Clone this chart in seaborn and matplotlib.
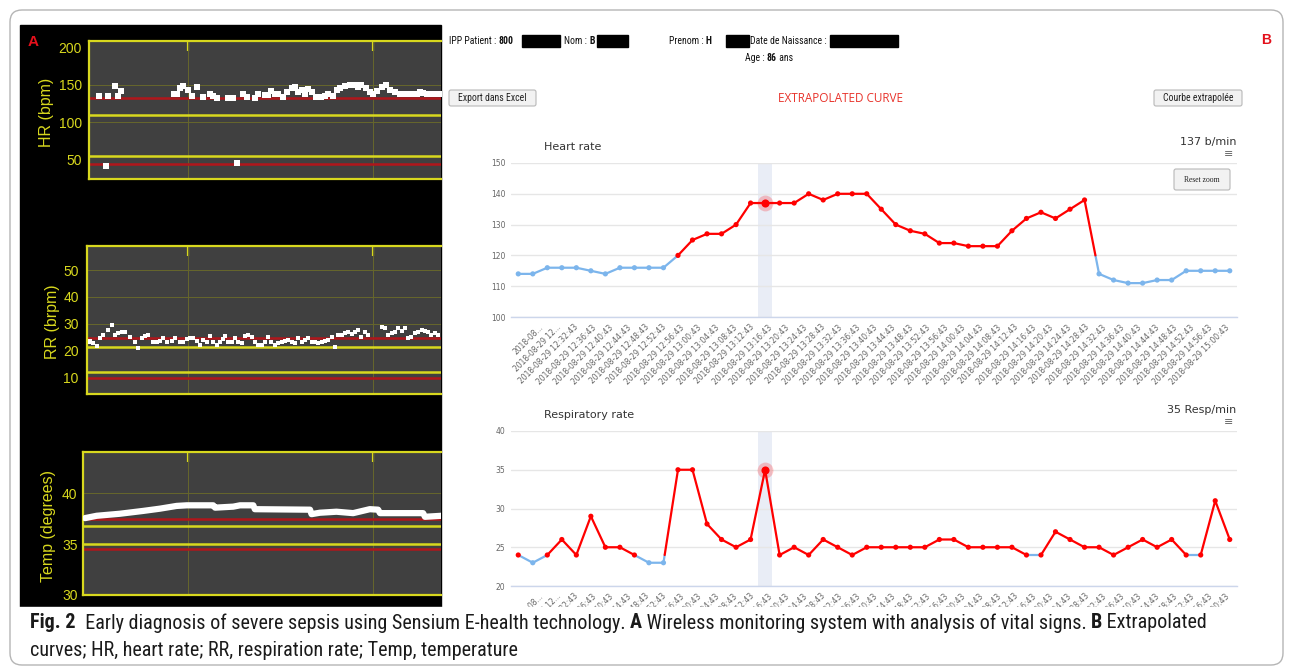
import numpy as np
import pandas as pd
import matplotlib
matplotlib.use("Agg")
import matplotlib.pyplot as plt
import matplotlib.transforms as mtransforms
from matplotlib.patches import Rectangle, FancyBboxPatch
from matplotlib.font_manager import FontProperties, fontManager
import seaborn as sns

# ---------------- panel A : Sensium monitor (time = minutes from left edge of HR plot)
hr_a_t = [3.3, 5.5, 6.3, 8.5, 9.3, 10.4, 27.6, 28.4, 29.5, 30.4, 32.2, 33.3, 35.1, 37.1, 39.3, 40.1,
          41.4, 45.2, 46.8, 48.1, 50.0, 51.1, 53.8, 54.9, 57.1, 58.1, 59.2, 60.3, 61.4, 63.0, 64.1,
          65.7, 66.8, 67.9, 69.0, 70.0, 71.1, 72.2, 73.8, 75.4, 76.5, 77.6, 79.2, 80.3, 81.4, 83.0,
          84.6, 86.3, 87.3, 88.4, 90.0, 91.1, 92.2, 93.3, 94.9, 96.5, 97.6, 99.2, 100.9, 101.9,
          103.0, 104.1, 105.2, 106.3, 107.4, 108.5, 109.5, 110.6, 111.7, 112.8, 113.8]
hr_a_v = [135, 42, 135, 148, 135, 141, 138, 138, 145, 148, 143, 135, 147, 134, 138, 135,
          132, 132, 132, 46, 138, 134, 132, 138, 136, 136, 141, 138, 138, 134, 140,
          145, 147, 140, 143, 137, 144, 140, 134, 133, 135, 138, 135, 143, 145, 148,
          149, 149, 147, 149, 145, 140, 138, 141, 147, 149, 143, 140, 138, 138,
          138, 137, 137, 138, 140, 139, 138, 138, 138, 137, 138]

rr_a_t = [0.2, 0.3, 1.4, 2.5, 3.6, 4.6, 6.3, 7.3, 8.4, 9.5, 10.6, 11.7, 13.3, 14.9, 16.0, 17.1,
          18.2, 19.2, 20.9, 21.9, 23.0, 24.1, 25.2, 26.8, 27.9, 29.5, 30.6, 31.7, 32.7, 33.8,
          34.9, 36.0, 37.1, 38.2, 39.2, 40.3, 41.4, 42.5, 43.6, 44.1, 45.2, 46.3, 47.3, 48.4,
          49.5, 50.6, 51.7, 52.8, 53.8, 54.9, 56.0, 57.1, 58.2, 59.2, 60.3, 61.4, 62.5, 63.6,
          64.6, 65.7, 66.8, 67.9, 69.0, 70.0, 71.1, 72.2, 73.3, 74.4, 75.5, 76.5, 77.6, 78.7,
          79.8, 80.9, 82.0, 83.0, 84.1, 85.2, 86.3, 87.3, 88.4, 89.5, 90.6, 94.9, 96.0, 97.1,
          98.2, 99.2, 100.3, 101.4, 102.5, 103.6, 104.6, 105.7, 106.8, 107.9, 109.0, 110.0,
          111.1, 112.2, 113.3]
rr_a_v = [23.5, 23.2, 22.6, 21.6, 24.5, 25.7, 27.6, 29.4, 25.7, 26.3, 26.9, 26.7, 25.1, 23.2, 20.7, 24.5,
          25.3, 25.7, 23.2, 23.0, 23.5, 24.5, 23.0, 23.5, 24.5, 23.0, 23.2, 24.1, 24.7, 24.5,
          23.5, 22.0, 23.8, 23.2, 25.3, 23.0, 22.0, 23.2, 24.2, 25.3, 23.0, 23.2, 24.5, 23.2,
          22.6, 25.3, 25.7, 25.1, 23.2, 22.0, 22.0, 23.2, 25.1, 23.0, 22.0, 22.6, 23.2, 23.5,
          23.8, 23.2, 22.6, 24.5, 23.2, 23.8, 24.5, 23.2, 23.0, 22.6, 23.2, 23.5, 23.8, 25.1,
          21.3, 25.7, 25.7, 26.3, 26.7, 26.0, 26.9, 27.6, 25.1, 26.9, 25.7, 28.8, 28.4, 25.7,
          26.3, 26.9, 28.2, 27.2, 28.4, 24.5, 25.1, 26.3, 26.9, 27.6, 27.2, 26.9,
          25.7, 26.3, 25.7]

temp_a_t = [-1.3, 2.5, 10.0, 17.6, 23.0, 28.4, 31.7, 40.3, 40.9, 46.8, 49.0, 53.3, 53.8, 71.7,
            72.2, 74.9, 80.3, 85.7, 91.1, 93.8, 94.4, 108.4, 109.0, 114.4]
temp_a_v = [37.57, 37.8, 38.0, 38.28, 38.5, 38.77, 38.83, 38.83, 38.6, 38.7, 38.83, 38.83, 38.45, 38.4,
            37.96, 38.1, 38.2, 38.06, 38.45, 38.4, 38.06, 38.06, 37.7, 37.8]

# alarm lines drawn by the monitor
hr_yellow, hr_red = [110, 55], [132, 45]
rr_yellow, rr_red = [21.2, 11.9], [24.6, 9.6]
temp_yellow, temp_red = [36.8, 35.0], [37.5, 34.5]
a_vgrid = [32.2, 92.0]

# ---------------- panel B : extrapolated curves (one sample per category)
hr_b = [114, 114, 116, 116, 116, 115, 114, 116, 116, 116,
        116, 120, 125, 127, 127, 130, 137, 137, 137, 137,
        140, 138, 140, 140, 140, 135, 130, 128, 127, 124,
        124, 123, 123, 123, 128, 132, 134, 132, 135, 138,
        114, 112, 111, 111, 112, 112, 115, 115, 115, 115]
rr_b = [24, 23, 24, 26, 24, 29, 25, 25, 24, 23,
        23, 35, 35, 28, 26, 25, 26, 35, 24, 25,
        24, 26, 25, 24, 25, 25, 25, 25, 25, 26,
        26, 25, 25, 25, 25, 24, 24, 27, 26, 25,
        25, 24, 25, 26, 25, 26, 24, 24, 31, 26]
hr_limit, rr_limit = 120, 24
hover = 17
b_labels = ["2018-08...", "2018-08-29 12..."] + [
    f"2018-08-29 {t:%H:%M:%S}"
    for t in pd.date_range("2018-08-29 12:32:43", "2018-08-29 15:00:43", freq="4min")]

W, H = 1293, 670
YEL, GRID_A, RED_A, DARK = "#d8d81e", "#67672c", "#b0161b", "#404040"
HC_RED, HC_BLUE, BAND = "#ff0000", "#7cb5ec", "#e9edf6"

sns.set_style("white")

# a condensed face for the caption / header if one is installed
NARROW, STRETCH = "Liberation Sans", "normal"
names = {f.name for f in fontManager.ttflist}
if "Liberation Sans Narrow" in names:
    NARROW = "Liberation Sans Narrow"
else:
    for fam in ("Roboto Condensed", "Open Sans Condensed", "Noto Sans", "Open Sans", "Roboto", "DejaVu Sans"):
        faces = [f for f in fontManager.ttflist if f.name == fam and f.style == "normal"
                 and str(f.stretch) in ("condensed", "semi-condensed")]
        if fam in names and (fam.endswith("Condensed") or faces):
            NARROW = fam
            STRETCH = "normal" if fam.endswith("Condensed") else str(faces[0].stretch)
            break
plt.rcParams["font.family"] = ["Liberation Sans", "DejaVu Sans"]

fig = plt.figure(figsize=(W / 100, H / 100), dpi=100)
fig.patch.set_facecolor("white")
renderer = fig.canvas.get_renderer()


def px_axes(x0, y0, x1, y1):
    return fig.add_axes([x0 / W, 1 - y1 / H, (x1 - x0) / W, (y1 - y0) / H])


def ftext(x, y, s, **kw):
    return fig.text(x / W, 1 - y / H, s, **kw)


def frect(x0, y0, x1, y1, **kw):
    p = Rectangle((x0 / W, 1 - y1 / H), (x1 - x0) / W, (y1 - y0) / H,
                  transform=fig.transFigure, **kw)
    fig.add_artist(p)
    return p


def button(x0, y0, x1, y1, s, size, family, stretch="normal"):
    p = FancyBboxPatch((x0, H - y1), x1 - x0, y1 - y0, boxstyle="round,pad=0,rounding_size=2",
                       transform=mtransforms.IdentityTransform(), fc="#f2f2f2", ec="#b8b8b8",
                       lw=0.8, zorder=3)
    fig.add_artist(p)
    ftext((x0 + x1) / 2, (y0 + y1) / 2, s, ha="center", va="center", fontsize=size,
          family=family, stretch=stretch, color="#222222", zorder=4)


def width(s, size, weight, family, stretch):
    prop = FontProperties(family=family, size=size, weight=weight, stretch=stretch)
    w1 = renderer.get_text_width_height_descent(s + "|", prop, False)[0]
    w0 = renderer.get_text_width_height_descent("|", prop, False)[0]
    return w1 - w0


def pieces(x, y, parts, size, family, stretch="normal", color="#111111", zorder=4):
    made = []
    for s, weight in parts:
        if weight == "box":
            frect(x, y - 6, x + s, y + 6, color="black", zorder=zorder)
            x += s
            continue
        if weight == "gap":
            x += s
            continue
        made.append(ftext(x, y, s, fontsize=size, fontweight=weight, family=family,
                          stretch=stretch, color=color, ha="left", va="center", zorder=zorder))
        x += width(s, size, weight, family, stretch)
    return x, made


# ---------------- panel A
frect(20, 25, 441, 607, color="black", zorder=0)
ftext(33, 42, "A", color="#e3101b", fontsize=11, fontweight="bold", ha="center", va="center")


def monitor(box, xlim, ylim, yticks, grid, yellow, red, label, lab_x, pad):
    ax = px_axes(*box)
    ax.set_facecolor(DARK)
    ax.set_xlim(*xlim)
    ax.set_ylim(*ylim)
    for s in ("left", "top", "bottom"):
        ax.spines[s].set_color(YEL)
        ax.spines[s].set_linewidth(1.6)
    ax.spines["right"].set_visible(False)
    ax.set_yticks(yticks)
    ax.tick_params(axis="y", direction="in", length=8, width=1.6, color=YEL,
                   labelcolor=YEL, labelsize=10, pad=pad)
    ax.set_xticks(a_vgrid)
    ax.tick_params(axis="x", direction="in", length=7, width=1.6, color=YEL,
                   top=True, labelbottom=False)
    for g in grid:
        ax.axhline(g, color=GRID_A, lw=0.7, zorder=1)
    for g in a_vgrid:
        ax.axvline(g, color=GRID_A, lw=0.7, zorder=1)
    for g in yellow:
        ax.axhline(g, color=YEL, lw=1.8, zorder=1)
    for g in red:
        ax.axhline(g, color=RED_A, lw=1.8, zorder=1)
    ftext(lab_x, (box[1] + box[3]) / 2 + 2, label, rotation=90, ha="center", va="center",
          color=YEL, fontsize=11.5)
    return ax


ax = monitor((89, 41, 441, 179), (0, 114.2), (24.7, 208), [50, 100, 150, 200], [100, 150],
             hr_yellow, hr_red, "HR (bpm)", 47, 5)
sns.scatterplot(x=hr_a_t, y=hr_a_v, marker="s", color="white", s=13, linewidth=0, ax=ax, zorder=3)

ax = monitor((87, 246, 441, 394), (-0.65, 114.2), (3.65, 59.0), [10, 20, 30, 40, 50], [30, 40, 50],
             rr_yellow, rr_red, "RR (brpm)", 53, 6)
sns.scatterplot(x=rr_a_t, y=rr_a_v, marker="s", color="white", s=12, linewidth=0, ax=ax, zorder=3)

ax = monitor((83, 452, 441, 595), (-1.95, 114.2), (30.19, 44.08), [30, 35, 40], [40],
             temp_yellow, temp_red, "Temp (degrees)", 48, 4)
sns.lineplot(x=temp_a_t, y=temp_a_v, color="white", lw=4.5, estimator=None, sort=False, ax=ax,
             zorder=3)
ax.set_xlabel("")
ax.set_ylabel("")

# ---------------- panel B header
FONT_B = "DejaVu Sans"
HS = 7
x, _ = pieces(449, 41, [("IPP Patient : ", "normal"), ("800", "bold")], HS, NARROW, STRETCH)
x, _ = pieces(max(x, 522), 41, [(38, "box")], HS, NARROW, STRETCH)
x, _ = pieces(max(x + 4, 564), 41, [("Nom : ", "normal"), ("B", "bold")], HS, NARROW, STRETCH)
pieces(max(x + 1, 597), 41, [(31, "box")], HS, NARROW, STRETCH)
x, _ = pieces(669, 41, [("Prenom : ", "normal"), ("H", "bold")], HS, NARROW, STRETCH)
x, _ = pieces(max(x + 1, 726), 41, [(23, "box")], HS, NARROW, STRETCH)
x, _ = pieces(x + 1, 41, [("Date de Naissance :", "normal")], HS, NARROW, STRETCH)
pieces(max(x + 3, 824), 41, [(68, "box")], HS, NARROW, STRETCH)
pieces(745, 58, [("Age : ", "normal"), ("86", "bold"), (" ans", "normal")], HS, NARROW, STRETCH)
ftext(1266, 40, "B", color="#e3101b", fontsize=10, fontweight="bold", ha="center", va="center")
button(449, 90, 536, 106, "Export dans Excel", HS, NARROW, STRETCH)
button(1154, 90, 1242, 106, "Courbe extrapolée", HS, NARROW, STRETCH)
ftext(840, 98, "EXTRAPOLATED CURVE", color="#e8332b", fontsize=8.5, family="Open Sans",
      ha="center", va="center")


def zone_runs(vals, thr):
    rows, seg, prev = [], 0, None
    for i in range(len(vals) - 1):
        a, b = vals[i], vals[i + 1]
        pts = [(i, a)]
        if (a - thr) * (b - thr) < 0:
            pts.append((i + (thr - a) / (b - a), thr))
        pts.append((i + 1, b))
        for (x0, y0), (x1, y1) in zip(pts[:-1], pts[1:]):
            zone = "hi" if (y0 + y1) / 2 > thr else "lo"
            if zone != prev:
                seg += 1
                prev = zone
                rows.append((seg, zone, x0, y0))
            rows.append((seg, zone, x1, y1))
    return pd.DataFrame(rows, columns=["seg", "zone", "x", "v"])


def chart(y0, y1, vals, thr, ylim, yticks, title, reading):
    ax = px_axes(511, y0, 1237, y1)
    n = len(vals)
    ax.set_xlim(-0.5, n - 0.5)
    ax.set_ylim(*ylim)
    ax.axvspan(hover - 0.5, hover + 0.5, color=BAND, lw=0, zorder=0)
    ax.set_yticks(yticks)
    ax.grid(axis="y", color="#e6e6e6", lw=1)
    ax.set_axisbelow(True)
    for s in ("left", "top", "right"):
        ax.spines[s].set_visible(False)
    ax.spines["bottom"].set_color("#ccd6eb")
    ax.spines["bottom"].set_linewidth(1)
    ax.set_xticks(np.arange(-0.5, n, 1))
    ax.tick_params(axis="x", length=4.5, color="#ccd6eb", labelbottom=False)
    ax.tick_params(axis="y", length=0, pad=4, labelsize=5.5, labelcolor="#666666")
    for t in ax.get_yticklabels():
        t.set_family(FONT_B)

    runs = zone_runs(vals, thr)
    sns.lineplot(data=runs, x="x", y="v", hue="zone", units="seg", estimator=None, sort=False,
                 palette={"hi": HC_RED, "lo": HC_BLUE}, lw=1.6, legend=False, ax=ax, zorder=2)
    pts = pd.DataFrame({"x": np.arange(n), "v": vals})
    pts["zone"] = np.where(pts["v"] >= thr, "hi", "lo")
    sns.scatterplot(data=pts, x="x", y="v", hue="zone", palette={"hi": HC_RED, "lo": HC_BLUE},
                    s=14, linewidth=0, legend=False, ax=ax, zorder=3)
    ax.scatter([hover], [vals[hover]], s=130, color=HC_RED, alpha=0.22, lw=0, zorder=3)
    ax.scatter([hover], [vals[hover]], s=34, color=HC_RED, lw=0, zorder=4)
    ax.set_xlabel("")
    ax.set_ylabel("")

    trans = mtransforms.offset_copy(
        mtransforms.blended_transform_factory(ax.transData, ax.transAxes),
        fig=fig, y=-9, units="dots")
    for xp, s in zip(np.linspace(1.63, 48.9, len(b_labels)), b_labels):
        ax.text(xp, 0, s, transform=trans, rotation=45, rotation_mode="anchor", ha="right",
                va="center", fontsize=5.5, color="#666666", family=FONT_B, clip_on=False)

    ftext(544, y0 - 16, title, fontsize=8, family=FONT_B, color="#333333", va="center")
    ftext(1236, y0 - 21, reading, fontsize=8, family=FONT_B, color="#333333", ha="right",
          va="center")
    ftext(1229, y0 - 9, "\u2261", fontsize=8, family=FONT_B, color="#666666", ha="center",
          va="center")
    return ax


chart(163, 317, hr_b, hr_limit, (100, 150), list(range(100, 151, 10)), "Heart rate", "137 b/min")
button(1174, 169, 1230, 190, "Reset zoom", 5.5, "Liberation Serif")
chart(431, 586, rr_b, rr_limit, (20, 40), [20, 25, 30, 35, 40], "Respiratory rate", "35 Resp/min")

# ---------------- caption
frect(11, 607, 1282, 664, color="white", zorder=5)
cap1 = [("Fig. 2", "bold"), ("  Early diagnosis of severe sepsis using Sensium E-health technology. ", "normal"),
        ("A", "bold"), (" Wireless monitoring system with analysis of vital signs. ", "normal"),
        ("B", "bold"), (" Extrapolated", "normal")]
cap2 = [("curves; HR, heart rate; RR, respiration rate; Temp, temperature", "normal")]
end, made = pieces(30, 623, cap1, 12, NARROW, STRETCH, color="#1a1a1a", zorder=6)
for t in made:
    t.remove()
size = min(14.5, 12 * (1266 - 30) / (end - 30))
pieces(30, 623, cap1, size, NARROW, STRETCH, color="#1a1a1a", zorder=6)
pieces(30, 650, cap2, size, NARROW, STRETCH, color="#1a1a1a", zorder=6)

border = FancyBboxPatch((10, H - 665), 1273, 655, boxstyle="round,pad=0,rounding_size=12",
                        transform=mtransforms.IdentityTransform(), fc="none", ec="#b5b5b5",
                        lw=1, zorder=7)
fig.add_artist(border)

fig.savefig("out.png", dpi=100)
